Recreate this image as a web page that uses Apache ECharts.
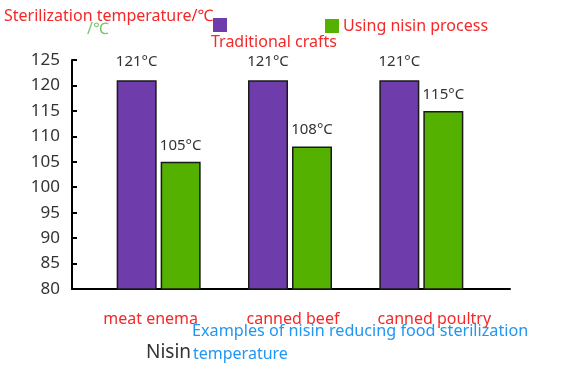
<!DOCTYPE html>
<html>
<head>
<meta charset="utf-8">
<script src="https://cdn.jsdelivr.net/npm/echarts@6/dist/echarts.min.js"></script>
<style>html,body{margin:0;padding:0;background:#fff}#c{width:565px;height:370px}</style>
</head>
<body>
<div id="c"></div>
<script>
var categories = ['meat enema', 'canned beef', 'canned poultry'];
var traditional = [121, 121, 121];
var nisinProcess = [105, 108, 115];
var seriesNames = ['Traditional crafts', 'Using nisin process'];
var yMin = 80, yMax = 125, yStep = 5;

var FONT = 'Noto Sans';
var RED = '#f42828';
var BLUE = '#2196f3';
function t(text, left, top, color, size) {
  return { text: text, left: left, top: top, padding: 0,
    textStyle: { color: color, fontSize: size, fontWeight: 'normal', fontFamily: FONT } };
}
var catLabelStyle = { color: RED, fontSize: 16, fontFamily: FONT };
var chart = echarts.init(document.getElementById('c'));
chart.setOption({
  animation: false,
  textStyle: { fontFamily: FONT },
  title: [
    t('Sterilization temperature/℃', 4, 8, RED, 16),
    t('/℃', 87, 21, '#7cc46c', 16),
    t(seriesNames[0], 211, 34, RED, 16),
    t('Examples of nisin reducing food sterilization', 192, 323, BLUE, 16.2),
    t('Nisin', 146, 343, '#333', 19),
    t('temperature', 193, 346, BLUE, 16)
  ],
  legend: [
    { data: [seriesNames[0]], left: 213, top: 18, padding: 0, icon: 'rect', itemWidth: 14, itemHeight: 14,
      formatter: function () { return ''; }, itemStyle: { borderWidth: 0 } },
    { data: [seriesNames[1]], left: 325, top: 18, padding: 0, icon: 'rect', itemWidth: 14, itemHeight: 14, itemGap: 4,
      itemStyle: { borderWidth: 0 },
      textStyle: { color: RED, fontSize: 16, fontFamily: FONT, padding: [5, 0, 0, -1] } }
  ],
  grid: [
    { left: 72, right: 55, top: 60, bottom: 81 },
    { left: 93, right: 78, top: 60, bottom: 81 }
  ],
  xAxis: [
    { type: 'value', gridIndex: 0, min: 0, max: 1, axisLine: { show: true, onZero: false, lineStyle: { color: '#000', width: 2 } },
      axisTick: { show: false }, axisLabel: { show: false }, splitLine: { show: false } },
    { type: 'category', gridIndex: 1, data: categories, axisLine: { show: false }, axisTick: { show: false },
      axisLabel: { color: RED, fontSize: 16, fontFamily: FONT, margin: 22, interval: 0,
        formatter: function (v, i) { return '{a' + i + '|' + v + '}'; },
        rich: {
          a0: Object.assign({ padding: [0, 16, 0, 0] }, catLabelStyle),
          a1: Object.assign({ padding: [0, 0, 0, 6] }, catLabelStyle),
          a2: Object.assign({ padding: [0, 0, 0, 26] }, catLabelStyle)
        } } }
  ],
  yAxis: [
    { type: 'value', gridIndex: 0, min: yMin, max: yMax, interval: yStep,
      axisLine: { show: true, lineStyle: { color: '#000', width: 2 } },
      axisTick: { show: true, inside: true, length: 5, lineStyle: { color: '#000', width: 2 } },
      axisLabel: { color: '#333', fontSize: 17, fontFamily: FONT, margin: 12 },
      splitLine: { show: false } },
    { type: 'value', gridIndex: 1, min: yMin, max: yMax, interval: yStep, show: false, splitLine: { show: false } }
  ],
  series: [
    { name: seriesNames[0], type: 'bar', xAxisIndex: 1, yAxisIndex: 1, data: traditional, barWidth: 40, barGap: '10%',
      itemStyle: { color: '#6f3dab', borderColor: '#1a1a1a', borderWidth: 1.5 },
      label: { show: true, position: 'top', distance: 11, formatter: '{c}°C', color: '#333', fontSize: 15, fontFamily: FONT } },
    { name: seriesNames[1], type: 'bar', xAxisIndex: 1, yAxisIndex: 1, data: nisinProcess, barWidth: 40, barGap: '10%',
      itemStyle: { color: '#55b100', borderColor: '#1a1a1a', borderWidth: 1.5 },
      label: { show: true, position: 'top', distance: 9, formatter: '{c}°C', color: '#333', fontSize: 15, fontFamily: FONT } }
  ]
});
</script>
</body>
</html>
